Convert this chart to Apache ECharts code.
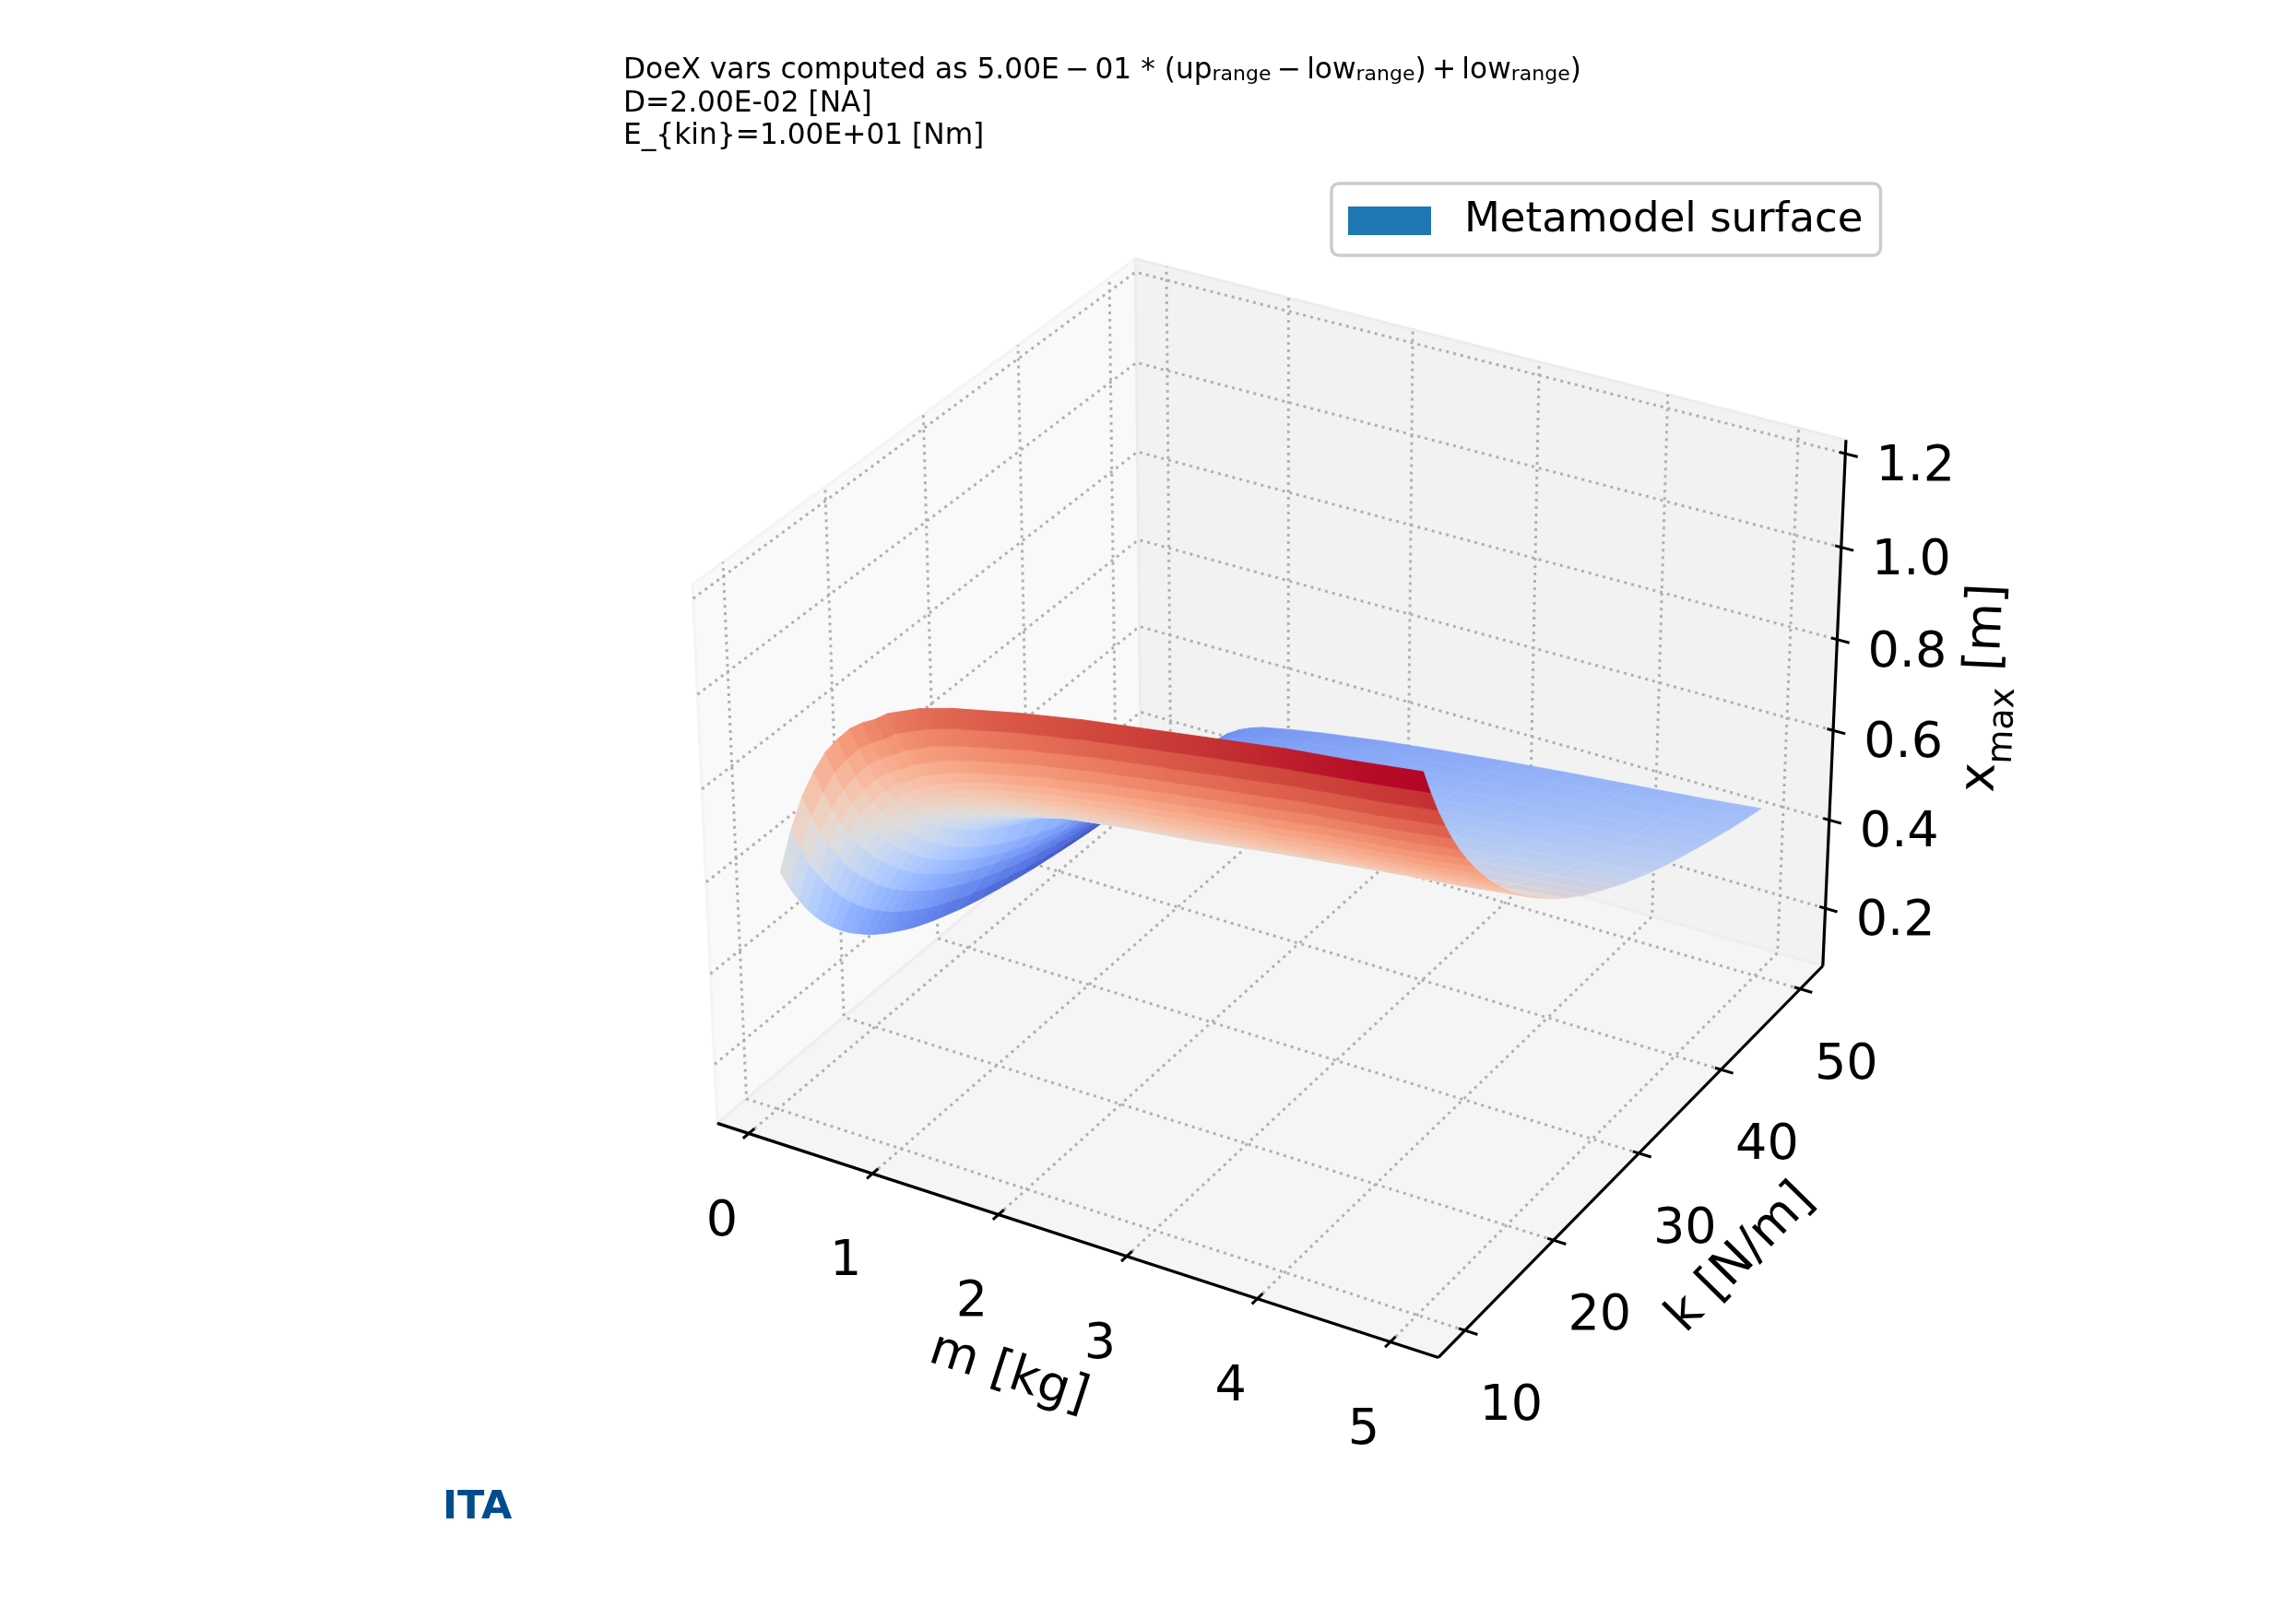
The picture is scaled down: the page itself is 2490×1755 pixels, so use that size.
<!DOCTYPE html>
<html>
<head>
<meta charset="utf-8">
<style>html,body{margin:0;padding:0;background:#fff}#chart{width:2490px;height:1755px}</style>
<script src="https://cdn.jsdelivr.net/npm/echarts@6/dist/echarts.min.js"></script>
</head>
<body>
<div id="chart"></div>
<script>
// Response surface x_max(m, k): one list per mass, one entry per stiffness.
const massKg = [0.1,0.2,0.3,0.4,0.5,0.6,0.7,0.8,0.9,1,1.25,1.5,2,2.5,3,3.5,4,4.5,5];
const stiffness = [10,10.8,11.6,12.4,13.2,14,14.8,15.6,16.4,17.2,18,18.8,19.6,20.4,21.2,22,22.8,23.6,24.4,25.2,26,28,30,32,34,36,38,40,42,44,46,48,50];
const xMaxByMass = [
[.600,.553,.513,.478,.447,.420,.396,.374,.355,.338,.322,.307,.294,.282,.271,.260,.250,.241,.233,.225,.218,.201,.187,.175,.164,.154,.146,.138,.131,.125,.119,.114,.109],
[.700,.647,.602,.562,.528,.497,.470,.445,.423,.403,.385,.368,.353,.339,.326,.314,.302,.292,.282,.273,.265,.245,.229,.214,.201,.190,.180,.171,.162,.155,.148,.142,.136],
[.780,.724,.676,.634,.597,.564,.535,.509,.485,.463,.443,.425,.409,.393,.379,.366,.353,.342,.331,.321,.311,.290,.271,.255,.241,.228,.216,.206,.196,.188,.180,.173,.166],
[.840,.783,.734,.691,.653,.619,.589,.561,.536,.514,.493,.474,.456,.440,.425,.411,.398,.385,.374,.363,.353,.330,.310,.292,.277,.263,.250,.239,.229,.219,.210,.203,.195],
[.890,.833,.783,.739,.700,.665,.634,.606,.580,.557,.535,.515,.497,.480,.464,.450,.436,.423,.411,.400,.389,.365,.344,.325,.308,.294,.280,.268,.257,.247,.237,.229,.221],
[.925,.869,.820,.777,.738,.704,.673,.644,.619,.595,.574,.554,.535,.518,.502,.487,.473,.460,.448,.436,.425,.401,.379,.359,.342,.327,.312,.300,.288,.277,.268,.258,.250],
[.955,.900,.851,.808,.770,.738,.709,.682,.659,.636,.615,.597,.580,.563,.548,.534,.521,.508,.497,.486,.475,.450,.426,.404,.383,.364,.347,.332,.318,.305,.294,.284,.274],
[.975,.920,.872,.830,.792,.759,.730,.704,.680,.658,.637,.619,.601,.585,.570,.555,.542,.530,.518,.507,.496,.470,.446,.424,.403,.384,.366,.350,.336,.323,.312,.301,.291],
[.990,.936,.888,.845,.807,.775,.746,.720,.696,.674,.653,.635,.617,.600,.585,.571,.557,.545,.533,.522,.510,.485,.461,.438,.417,.397,.379,.363,.349,.336,.324,.314,.303],
[1.010,.955,.906,.863,.825,.792,.763,.736,.712,.689,.668,.649,.631,.614,.599,.584,.570,.558,.546,.534,.523,.496,.472,.449,.427,.408,.389,.373,.358,.345,.333,.322,.312],
[1.040,.984,.935,.891,.852,.818,.788,.761,.736,.713,.691,.672,.654,.636,.620,.605,.591,.578,.566,.555,.543,.516,.491,.467,.445,.425,.406,.389,.374,.361,.349,.337,.326],
[1.060,1.004,.954,.910,.870,.837,.807,.779,.754,.730,.708,.689,.670,.653,.637,.622,.607,.594,.582,.570,.558,.530,.505,.481,.459,.438,.419,.402,.387,.373,.361,.349,.338],
[1.090,1.034,.984,.940,.900,.865,.834,.805,.779,.755,.732,.711,.691,.674,.656,.641,.625,.612,.598,.586,.574,.546,.520,.496,.475,.455,.438,.422,.407,.393,.381,.369,.359],
[1.115,1.058,1.009,.964,.924,.888,.856,.826,.798,.773,.750,.728,.708,.689,.671,.655,.639,.625,.611,.597,.585,.557,.531,.508,.488,.470,.453,.437,.423,.410,.398,.387,.376],
[1.135,1.079,1.029,.985,.945,.909,.876,.846,.819,.793,.770,.748,.728,.709,.691,.675,.659,.644,.630,.617,.604,.575,.550,.527,.506,.487,.470,.455,.440,.427,.415,.403,.392],
[1.155,1.099,1.049,1.004,.964,.928,.895,.865,.837,.812,.788,.766,.746,.727,.709,.692,.676,.661,.647,.633,.621,.591,.565,.542,.521,.502,.485,.469,.454,.441,.428,.417,.406],
[1.175,1.118,1.069,1.024,.984,.947,.914,.884,.856,.830,.807,.784,.764,.745,.726,.709,.693,.678,.664,.650,.637,.608,.582,.558,.537,.518,.500,.484,.469,.455,.443,.431,.419],
[1.190,1.134,1.084,1.039,.999,.963,.930,.899,.871,.846,.822,.800,.779,.759,.741,.724,.708,.693,.678,.665,.652,.622,.596,.572,.550,.531,.513,.497,.482,.468,.455,.443,.432],
[1.208,1.152,1.102,1.058,1.017,.981,.948,.918,.890,.864,.840,.818,.797,.777,.759,.742,.726,.711,.696,.682,.669,.639,.613,.589,.567,.547,.529,.513,.498,.484,.470,.458,.447]
];
const mTicks = [0,1,2,3,4,5];
const kTicks = [10,20,30,40,50];
const zTicks = [0.2,0.4,0.6,0.8,1.0,1.2];
const mLimits = [-0.257,5.357];
const kLimits = [7.08,52.92];
const zLimits = [0.068,1.229];
const titleLines = ['D=2.00E-02 [NA]','E_{kin}=1.00E+01 [Nm]'];
const legendName = 'Metamodel surface';

// Diverging colour ramp, sampled at equal steps.
const coolwarm = [[59,76,192],[68,90,204],[77,104,215],[87,117,225],[98,130,234],[108,142,241],[119,154,247],[130,165,251],[141,176,254],[152,185,255],[163,194,255],[174,201,253],[184,208,249],[194,213,244],[204,217,238],[213,219,230],[221,221,221],[229,216,209],[236,211,197],[241,204,185],[245,196,173],[247,187,160],[247,177,148],[247,166,135],[244,154,123],[241,141,111],[236,127,99],[229,112,88],[222,96,77],[213,80,66],[203,62,56],[192,40,47],[180,4,38]];
function rampColor(t){
  const p = Math.max(0,Math.min(1,t))*(coolwarm.length-1), a = Math.floor(p), b = Math.min(a+1,coolwarm.length-1), f = p-a;
  const c = [0,1,2].map(n => Math.round(coolwarm[a][n]+(coolwarm[b][n]-coolwarm[a][n])*f));
  return `rgb(${c[0]},${c[1]},${c[2]})`;
}

// Perspective view of the data box (elevation 30, azimuth -60, eye distance 10).
const BOX = [1.1429,1.1429,0.85];
const toBox = (v,l,s) => ((v-l[0])/(l[1]-l[0])-0.5)*s;
function project(m,k,z){
  const x = toBox(m,mLimits,BOX[0]), y = toBox(k,kLimits,BOX[1]), w = toBox(z,zLimits,BOX[2]);
  const d = 10-(0.43301*x-0.75*y+0.5*w);
  return [(0.86603*x+0.5*y)/d, (-0.25*x+0.43301*y+0.86603*w)/d, d];
}
const SCALE = 7840, CX = 1388, CY = 849;
const pt = (api,m,k,z) => { const p = project(m,k,z); return api.coord([p[0],p[1]]); };

const M0=mLimits[0],M1=mLimits[1],K0=kLimits[0],K1=kLimits[1],Z0=zLimits[0],Z1=zLimits[1];
const dM=(M1-M0)/12, dK=(K1-K0)/12;

const panes = [
  {pts:[[M0,K0,Z0],[M0,K1,Z0],[M0,K1,Z1],[M0,K0,Z1]],fill:'#f9f9f9',edge:'#f4f4f4'},
  {pts:[[M0,K1,Z0],[M1,K1,Z0],[M1,K1,Z1],[M0,K1,Z1]],fill:'#f2f2f2',edge:'#ececec'},
  {pts:[[M0,K0,Z0],[M1,K0,Z0],[M1,K1,Z0],[M0,K1,Z0]],fill:'#f5f5f5',edge:'#eeeeee'}
];
const gridLines = [];
mTicks.forEach(v => gridLines.push([[v,K0,Z0],[v,K1,Z0],[v,K1,Z1]]));
kTicks.forEach(v => gridLines.push([[M1,v,Z0],[M0,v,Z0],[M0,v,Z1]]));
zTicks.forEach(v => gridLines.push([[M0,K0,v],[M0,K1,v],[M1,K1,v]]));
const axisLines = [[[M0,K0,Z0],[M1,K0,Z0]],[[M1,K0,Z0],[M1,K1,Z0]],[[M1,K1,Z0],[M1,K1,Z1]]];
const tickLines = [];
mTicks.forEach(v => tickLines.push([[v,K0-0.15*dK,Z0],[v,K0+0.15*dK,Z0]]));
kTicks.forEach(v => tickLines.push([[M1-0.1*dM,v,Z0],[M1+0.2*dM,v,Z0]]));
zTicks.forEach(v => tickLines.push([[M1-0.1*dM,K1,v],[M1+0.2*dM,K1,v]]));

// Surface cells, each coloured by its mean height and ordered far to near.
const cells = [];
for(let c=0;c<massKg.length-1;c++) for(let r=0;r<stiffness.length-1;r++){
  const a=xMaxByMass[c][r],b=xMaxByMass[c+1][r],e=xMaxByMass[c][r+1],f=xMaxByMass[c+1][r+1];
  const mean = (a+b+e+f)/4;
  const depth = (project(massKg[c],stiffness[r],a)[2]+project(massKg[c+1],stiffness[r],b)[2]+project(massKg[c],stiffness[r+1],e)[2]+project(massKg[c+1],stiffness[r+1],f)[2])/4;
  cells.push({r,c,mean,depth});
}
cells.sort((a,b)=>b.depth-a.depth);
const meanMin = Math.min(...cells.map(c=>c.mean)), meanMax = Math.max(...cells.map(c=>c.mean));
const norm = z => (z-meanMin)/(meanMax-meanMin);
const FAR_ROW = stiffness.indexOf(26);

// Wide cells get a gradient so their colour does not step: along the mass direction
// on the near rows, and along the full height slope on the far, widely spaced rows.
function cellFill(api,r,c,mean){
  if(massKg[c]<1) return rampColor(norm(mean));
  const z=xMaxByMass;
  if(r>=FAR_ROW){
    const p0=pt(api,massKg[c],stiffness[r],z[c][r]), p1=pt(api,massKg[c+1],stiffness[r],z[c+1][r]), p2=pt(api,massKg[c],stiffness[r+1],z[c][r+1]);
    const ux=p1[0]-p0[0],uy=p1[1]-p0[1],vx=p2[0]-p0[0],vy=p2[1]-p0[1],du=z[c+1][r]-z[c][r],dv=z[c][r+1]-z[c][r];
    const det=ux*vy-uy*vx;
    if(Math.abs(det)>1){
      const gx=(du*vy-dv*uy)/det, gy=(dv*ux-du*vx)/det, g2=gx*gx+gy*gy;
      if(g2>0){
        const span=0.1, ex=p0[0]+gx/g2*span, ey=p0[1]+gy/g2*span, sx=p0[0]-gx/g2*span, sy=p0[1]-gy/g2*span;
        return {type:'linear',global:true,x:sx,y:sy,x2:ex,y2:ey,colorStops:[{offset:0,color:rampColor(norm(z[c][r]-span))},{offset:1,color:rampColor(norm(z[c][r]+span))}]};
      }
    }
    return rampColor(norm(mean));
  }
  const left=(z[c][r]+z[c][r+1])/2, right=(z[c+1][r]+z[c+1][r+1])/2, kMid=(stiffness[r]+stiffness[r+1])/2;
  const a=pt(api,massKg[c],kMid,left), b=pt(api,massKg[c+1],kMid,right);
  return {type:'linear',global:true,x:a[0],y:a[1],x2:b[0],y2:b[1],colorStops:[{offset:0,color:rampColor(norm(left))},{offset:1,color:rampColor(norm(right))}]};
}

const polyLineItem = (api,line,style) => ({type:'polyline',shape:{points:line.map(p=>pt(api,p[0],p[1],p[2]))},style:Object.assign({fill:null},style),silent:true});
const idx = a => a.map((_,i)=>[i,0]);
const base = {type:'custom',coordinateSystem:'cartesian2d',clip:false,silent:true,animation:false};

const tickFont = {fontFamily:'DejaVu Sans',fontSize:54,fill:'#000',textAlign:'center',textVerticalAlign:'middle'};
const tickLabels = [];
mTicks.forEach(v=>tickLabels.push({text:String(v),at:[v,K0,Z0],off:[-29,96]}));
kTicks.forEach(v=>tickLabels.push({text:String(v),at:[M1,v,Z0],off:[50,83]}));
zTicks.forEach(v=>tickLabels.push({text:v.toFixed(1),at:[M1,K1,v],off:[76,15]}));

const axisTitles = [
  {text:'m [kg]',from:axisLines[0][0],to:axisLines[0][1],off:[-75,145]},
  {text:'k [N/m]',from:axisLines[1][0],to:axisLines[1][1],off:[120,105]},
  {text:'{a|x}{b|max}{a| [m]}',from:axisLines[2][0],to:axisLines[2][1],off:[170,-16]}
];

const chart = echarts.init(document.getElementById('chart'),null,{renderer:'canvas'});
const titleRich = {
  t:{fontFamily:'DejaVu Sans',fontSize:31.25,fontWeight:'normal',color:'#000',lineHeight:31,verticalAlign:'top'},
  s:{fontFamily:'DejaVu Sans',fontSize:22,fontWeight:'normal',color:'#000',lineHeight:31,verticalAlign:'bottom'}
};
chart.setOption({
  animation:false,
  backgroundColor:'#fff',
  title:[
    {text:'{t|DoeX vars computed as 5.00E\u2009−\u200901 * (up}{s|range}{t|\u2009−\u2009low}{s|range}{t|)\u2009+\u2009low}{s|range}{t|)}',left:676,top:61,padding:0,textStyle:{fontWeight:'normal',rich:titleRich}},
    {text:titleLines[0],left:676,top:97,padding:0,textStyle:{fontFamily:'DejaVu Sans',fontSize:31.25,fontWeight:'normal',color:'#000'}},
    {text:titleLines[1],left:676,top:132,padding:0,textStyle:{fontFamily:'DejaVu Sans',fontSize:31.25,fontWeight:'normal',color:'#000'}},
    {text:'ITA',left:480,top:1614,padding:0,textStyle:{fontFamily:'DejaVu Sans',fontSize:43,fontWeight:'bold',color:'#004c8c'}}
  ],
  legend:{
    data:[{name:legendName,icon:'rect',itemStyle:{color:'#1f77b4',borderWidth:0}}],
    left:1444,top:199,padding:[18,19,15,18],selectedMode:false,
    itemWidth:90,itemHeight:31,backgroundColor:'#fff',borderColor:'#cccccc',borderWidth:3.5,borderRadius:8,
    textStyle:{fontFamily:'DejaVu Sans',fontSize:45,color:'#000',padding:[0,0,0,31]}
  },
  grid:{left:0,right:0,top:0,bottom:0,containLabel:false},
  xAxis:{type:'value',show:false,min:-CX/SCALE,max:(2490-CX)/SCALE},
  yAxis:{type:'value',show:false,min:(CY-1755)/SCALE,max:CY/SCALE},
  series:[
    Object.assign({},base,{name:'panes',data:idx(panes),z:1,renderItem(p,api){const q=panes[api.value(0)];return {type:'polygon',shape:{points:q.pts.map(a=>pt(api,a[0],a[1],a[2]))},style:{fill:q.fill,stroke:q.edge,lineWidth:3},silent:true};}}),
    Object.assign({},base,{name:'grid',data:idx(gridLines),z:2,renderItem(p,api){return polyLineItem(api,gridLines[api.value(0)],{stroke:'#b0b0b0',lineWidth:3,lineDash:[3,5]});}}),
    Object.assign({},base,{name:'axes',data:idx(axisLines),z:3,renderItem(p,api){return polyLineItem(api,axisLines[api.value(0)],{stroke:'#000',lineWidth:3.2});}}),
    Object.assign({},base,{name:'ticks',data:idx(tickLines),z:3,renderItem(p,api){return polyLineItem(api,tickLines[api.value(0)],{stroke:'#000',lineWidth:3});}}),
    Object.assign({},base,{name:legendName,itemStyle:{color:'#1f77b4'},data:cells.map(c=>[c.r,c.c,c.mean]),z:4,renderItem(p,api){
      const r=api.value(0),c=api.value(1),mean=api.value(2);
      const v=[[r,c],[r,c+1],[r+1,c+1],[r+1,c]];
      return {type:'polygon',shape:{points:v.map(n=>pt(api,massKg[n[1]],stiffness[n[0]],xMaxByMass[n[1]][n[0]]))},style:{fill:cellFill(api,r,c,mean),stroke:rampColor(norm(mean)),lineWidth:0.8},silent:true};
    }}),
    Object.assign({},base,{name:'tickLabels',data:idx(tickLabels),z:5,renderItem(p,api){
      const l=tickLabels[api.value(0)],q=pt(api,l.at[0],l.at[1],l.at[2]);
      return {type:'text',x:q[0]+l.off[0],y:q[1]+l.off[1],style:Object.assign({text:l.text},tickFont),silent:true};
    }}),
    Object.assign({},base,{name:'axisTitles',data:idx(axisTitles),z:5,renderItem(p,api){
      const l=axisTitles[api.value(0)],a=pt(api,...l.from),b=pt(api,...l.to);
      const ang=Math.atan2(-(b[1]-a[1]),b[0]-a[0]);
      return {type:'text',x:(a[0]+b[0])/2+l.off[0],y:(a[1]+b[1])/2+l.off[1],rotation:ang,style:{text:l.text,rich:{a:{fontFamily:'DejaVu Sans',fontSize:54,fill:'#000',lineHeight:68,verticalAlign:'top'},b:{fontFamily:'DejaVu Sans',fontSize:38,fill:'#000',lineHeight:68,verticalAlign:'bottom'}},fontFamily:'DejaVu Sans',fontSize:54,fill:'#000',textAlign:'center',textVerticalAlign:'middle'},silent:true};
    }})
  ]
});
</script>
</body>
</html>
